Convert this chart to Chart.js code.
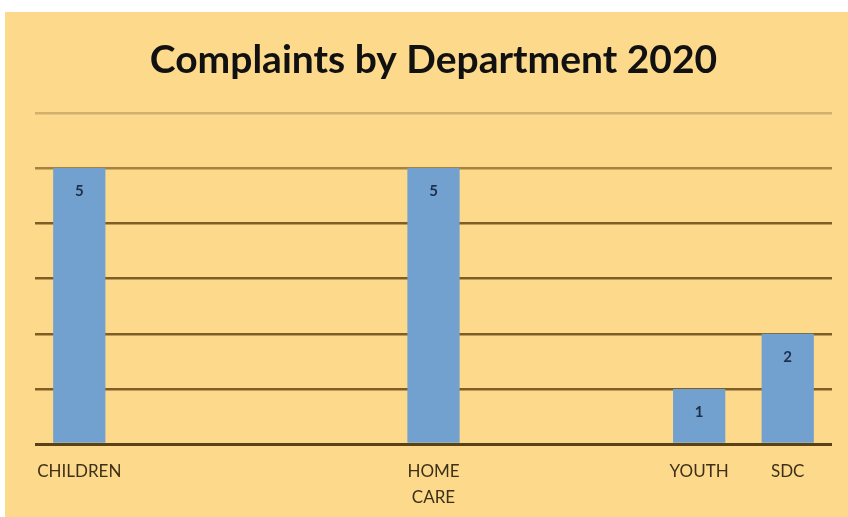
<!DOCTYPE html>
<html>
<head>
<meta charset="utf-8">
<script src="https://cdn.jsdelivr.net/npm/chart.js@4/dist/chart.umd.min.js"></script>
<style>
  html, body { margin: 0; padding: 0; background: #ffffff; }
  #wrap { width: 848px; height: 517px; position: relative; }
</style>
</head>
<body>
<div id="wrap"><canvas id="chart"></canvas></div>
<script>
// departments along the x axis (blank slots keep the original spacing)
const departments = ['CHILDREN', '', '', '', ['HOME', 'CARE'], '', '', 'YOUTH', 'SDC'];
const complaints = [5, null, null, null, 5, null, null, 1, 2];
const yTicks = [0, 1, 2, 3, 4, 5, 6];

const panelColor = '#fdd98c';
const barColor = '#73a1cf';

// orange panel behind the whole chart
const panelBg = {
  id: 'panelBg',
  beforeDraw(chart) {
    const ctx = chart.ctx;
    ctx.save();
    ctx.fillStyle = panelColor;
    ctx.fillRect(5, 12, chart.width - 5, chart.height - 12);
    ctx.restore();
  }
};

// value printed just inside the top of each bar
const barValues = {
  id: 'barValues',
  afterDatasetsDraw(chart) {
    const ctx = chart.ctx;
    const meta = chart.getDatasetMeta(0);
    ctx.save();
    ctx.font = 'bold 15px Lato, "Open Sans", sans-serif';
    ctx.fillStyle = '#1d2f4a';
    ctx.textAlign = 'center';
    ctx.textBaseline = 'middle';
    meta.data.forEach((bar, i) => {
      const v = complaints[i];
      if (v === null) return;
      ctx.fillText(String(v), bar.x, bar.y + 23);
    });
    ctx.restore();
  }
};

new Chart(document.getElementById('chart'), {
  type: 'bar',
  data: {
    labels: departments,
    datasets: [{
      data: complaints,
      backgroundColor: barColor,
      borderWidth: 0,
      barPercentage: 0.59,
      categoryPercentage: 1.0
    }]
  },
  options: {
    responsive: true,
    maintainAspectRatio: false,
    animation: false,
    layout: { padding: { left: 35, right: 16, top: 22, bottom: 0 } },
    plugins: {
      legend: { display: false },
      tooltip: { enabled: false },
      title: {
        display: true,
        text: 'Complaints by Department 2020',
        color: '#111111',
        font: { family: 'Lato, "Open Sans", sans-serif', size: 39, weight: 'bold' },
        padding: { top: 15, bottom: 29 }
      }
    },
    scales: {
      y: {
        min: 0,
        max: 6,
        afterBuildTicks(axis) { axis.ticks = yTicks.map(v => ({ value: v })); },
        ticks: { display: false },
        border: { display: false },
        grid: {
          drawTicks: false,
          lineWidth: ctx => ctx.tick && ctx.tick.value === 0 ? 3 : 2.5,
          color: ctx => {
            const v = ctx.tick ? ctx.tick.value : 0;
            if (v === 0) return '#5a4216';
            if (v === 6) return '#d2b06e';
            if (v === 5) return '#a4823f';
            return '#7e5e24';
          }
        }
      },
      x: {
        grid: { display: false },
        border: { display: false },
        ticks: {
          color: '#3d3018',
          padding: 6,
          maxRotation: 0,
          autoSkip: false,
          font: { family: 'Lato, "Open Sans", sans-serif', size: 17, lineHeight: 1.55 }
        }
      }
    }
  },
  plugins: [panelBg, barValues]
});
</script>
</body>
</html>
